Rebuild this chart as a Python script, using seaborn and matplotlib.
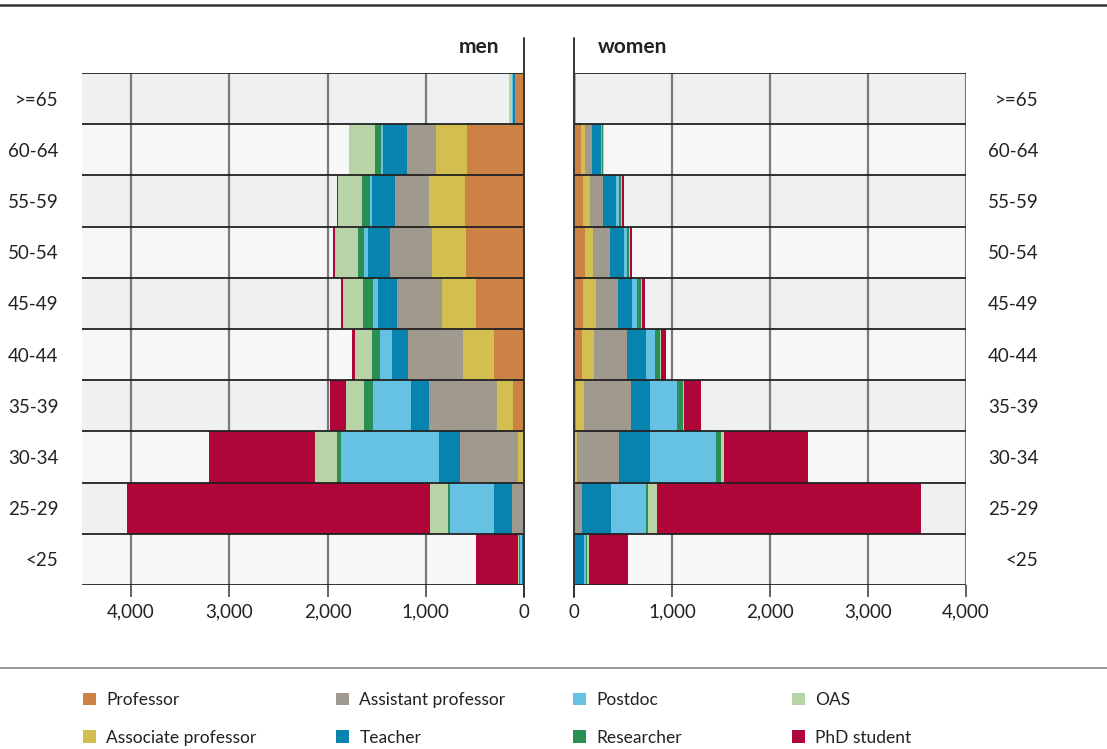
import numpy as np
import pandas as pd
import matplotlib
matplotlib.use("Agg")
import matplotlib.pyplot as plt
from matplotlib.lines import Line2D
from matplotlib.patches import Patch
import seaborn as sns

AGE_GROUPS = [">=65", "60-64", "55-59", "50-54", "45-49", "40-44", "35-39", "30-34", "25-29", "<25"]
ROLES = ["Professor", "Associate professor", "Assistant professor", "Teacher",
         "Postdoc", "Researcher", "OAS", "PhD student"]
COLORS = ["#cc8245", "#d3bf50", "#a09a8e", "#0783b0", "#65c2e3", "#2a8f52", "#b8d3a6", "#b00538"]

# men, per age group (top to bottom)
professor_m = [77, 576, 603, 586, 491, 308, 115, 10, 3, 2]
assoc_m = [8, 315, 366, 350, 346, 308, 160, 51, 10, 2]
asst_m = [10, 302, 346, 430, 451, 560, 695, 587, 105, 5]
teacher_m = [20, 247, 237, 224, 200, 170, 183, 217, 183, 15]
postdoc_m = [5, 17, 14, 37, 54, 122, 387, 1000, 451, 15]
researcher_m = [3, 64, 88, 68, 95, 81, 85, 41, 20, 8]
oas_m = [30, 261, 237, 231, 210, 173, 190, 224, 190, 15]
phd_m = [2, 0, 17, 17, 17, 27, 163, 1078, 3079, 427]

# women
professor_w = [3, 68, 88, 108, 88, 78, 17, 5, 2, 3]
assoc_w = [1, 41, 71, 85, 132, 122, 88, 27, 3, 2]
asst_w = [3, 71, 142, 170, 227, 343, 481, 427, 78, 5]
teacher_w = [4, 92, 132, 146, 142, 190, 193, 315, 298, 90]
postdoc_w = [6, 10, 24, 27, 51, 98, 275, 675, 356, 27]
researcher_w = [1, 10, 24, 27, 44, 51, 61, 47, 14, 5]
oas_w = [2, 17, 5, 5, 5, 10, 10, 37, 95, 20]
phd_w = [1, 0, 20, 24, 37, 47, 173, 851, 2696, 394]

X_TICKS = [0, 1000, 2000, 3000, 4000]

sns.set_theme(style="white")
plt.rcParams['font.family'] = ['Lato', 'DejaVu Sans']
TXT = "#222222"
TICK_FS = 13.5


def draw_panel(ax, series, side):
    df = pd.DataFrame(dict(zip(ROLES, series)), index=AGE_GROUPS)
    cum = df.cumsum(axis=1)
    n = len(AGE_GROUPS)
    for i in range(n):
        ax.axhspan(i - 0.5, i + 0.5, color="#eff0f2" if i % 2 == 0 else "#f7f7f7",
                   zorder=0, lw=0)
    for x in X_TICKS[1:]:
        ax.axvline(x, color="#7a7a7a", lw=1.6, zorder=0.5)
    # draw outermost cumulative first so inner segments sit on top
    for role, col in zip(ROLES[::-1], COLORS[::-1]):
        d = pd.DataFrame({"age": AGE_GROUPS, "val": cum[role].values})
        sns.barplot(data=d, x="val", y="age", order=AGE_GROUPS, color=col,
                    width=1.0, linewidth=0, saturation=1, ax=ax, zorder=2)
    for i in range(n + 1):
        ax.axhline(i - 0.5, color="#222222", lw=1.3, zorder=3)
    ax.set_ylim(n - 0.5, -0.5)
    ax.set_xlabel("")
    ax.set_ylabel("")
    ax.set_xticks(X_TICKS)
    ax.set_xticklabels([f"{v:,}" for v in X_TICKS], fontsize=TICK_FS, color=TXT)
    ax.tick_params(axis="x", length=8.5, width=1.3, color="#555555", pad=5,
                   bottom=True)
    for s in ax.spines.values():
        s.set_visible(False)
    ax.axvline(0, ymin=-0.023, ymax=1.068, color="#333333", lw=1.4,
               clip_on=False, zorder=4)
    if side == "left":
        ax.set_xlim(4500, 0)
        ax.tick_params(axis="y", length=0, pad=17, labelsize=TICK_FS, labelcolor=TXT)
    else:
        ax.set_xlim(0, 4000)
        ax.yaxis.tick_right()
        ax.tick_params(axis="y", length=0, pad=52, labelsize=TICK_FS, labelcolor=TXT)
        for lab in ax.get_yticklabels():
            lab.set_horizontalalignment("right")


fig = plt.figure(figsize=(11.07, 7.49), dpi=100)
ax_m = fig.add_axes([82 / 1107, 1 - 585 / 749, (524 - 82) / 1107, 512 / 749])
ax_w = fig.add_axes([574 / 1107, 1 - 585 / 749, (966 - 574) / 1107, 512 / 749])

draw_panel(ax_m, [professor_m, assoc_m, asst_m, teacher_m, postdoc_m, researcher_m, oas_m, phd_m], "left")
draw_panel(ax_w, [professor_w, assoc_w, asst_w, teacher_w, postdoc_w, researcher_w, oas_w, phd_w], "right")

fig.text(499 / 1107, 1 - 47 / 749, "men", ha="right", va="center",
         fontsize=15, fontweight="bold", color=TXT)
fig.text(598 / 1107, 1 - 47 / 749, "women", ha="left", va="center",
         fontsize=15, fontweight="bold", color=TXT)

fig.add_artist(Line2D([0, 1], [1 - 5 / 749] * 2, color="#333333", lw=1.8))
fig.add_artist(Line2D([0, 1], [1 - 668 / 749] * 2, color="#888888", lw=1.2))

# legend: four columns, two rows each
col_x = [83, 336, 573, 792]
for c in range(4):
    idx = [c * 2, c * 2 + 1]
    handles = [Patch(facecolor=COLORS[k], edgecolor="none") for k in idx]
    labels = [ROLES[k] for k in idx]
    fig.legend(handles, labels, loc="upper left",
               bbox_to_anchor=(col_x[c] / 1107, 1 - 692 / 749),
               frameon=False, fontsize=12.5, handlelength=0.75, handleheight=0.75,
               handletextpad=0.6, labelspacing=1.25, borderpad=0, borderaxespad=0,
               labelcolor=TXT)

fig.savefig("out.png", dpi=100)
